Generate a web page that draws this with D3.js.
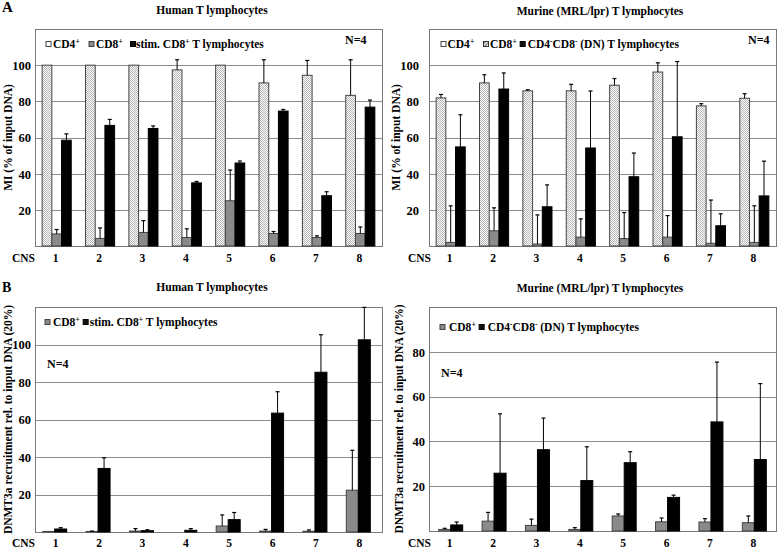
<!DOCTYPE html>
<html><head><meta charset="utf-8">
<script src="https://cdn.jsdelivr.net/npm/d3@7"></script>
<style>
body{margin:0;background:#fff}
svg{display:block}
text{font-family:"Liberation Serif","Times New Roman",serif;font-weight:bold;fill:#000}
</style>
</head><body>
<svg id="c" width="778" height="548"></svg>
<script>
// ---------- DATA ----------
const cnsLabels = ["1","2","3","4","5","6","7","8"];

// Panel A (MI, % of input DNA) – human
const humanMI_CD4      = [100, 100, 100, 97.4, 100, 90.2, 94.4, 83.3];
const humanMI_CD4_err  = [0, 0, 0, 5.6, 0, 12.8, 8.2, 19.7];
const humanMI_CD8      = [6.7, 4.2, 7.5, 4.7, 25, 6.9, 4.7, 6.9];
const humanMI_CD8_err  = [2.4, 5.8, 6.5, 4.8, 17, 1.1, 0.9, 3.6];
const humanMI_stim     = [58.5, 66.7, 65, 34.9, 45.9, 74.6, 27.8, 76.8];
const humanMI_stim_err = [3.5, 3.3, 1.4, 0.8, 1.1, 0.9, 2.2, 3.9];

// Panel A – murine
const murineMI_CD4     = [81.9, 90.2, 85.8, 85.8, 88.9, 96.2, 77.5, 81.7];
const murineMI_CD4_err = [1.9, 4.5, 0.6, 3.6, 3.7, 5.1, 1.2, 2.5];
const murineMI_CD8     = [2, 8.4, 1.1, 4.9, 4.1, 4.9, 1.5, 2];
const murineMI_CD8_err = [20.2, 12.7, 16.1, 10.1, 14.4, 11.9, 23.9, 20.2];
const murineMI_DN      = [54.8, 86.8, 21.7, 54.2, 38.3, 60.4, 11.2, 27.7];
const murineMI_DN_err  = [17.8, 8.9, 12.1, 31.5, 13.1, 41.6, 6.6, 19.2];

// Panel B (DNMT3a recruitment) – human
const humanDN_CD8      = [0.3, 0.3, 0.5, 0, 3.2, 0.5, 0.4, 22.3];
const humanDN_CD8_err  = [0, 0.2, 1.3, 0, 5.9, 0.9, 0.7, 21.3];
const humanDN_stim     = [1.6, 33.9, 0.7, 0.9, 6.6, 63.4, 85.2, 102.5];
const humanDN_stim_err = [0.7, 5.7, 0.5, 0.9, 3.8, 11.4, 20, 17.3];

// Panel B – murine
const murineDN_CD8     = [0.7, 4.4, 2.5, 0.7, 6.7, 4.1, 4, 3.7];
const murineDN_CD8_err = [0.5, 3.9, 2.8, 0.8, 0.9, 1.7, 1.5, 3];
const murineDN_DN      = [2.7, 25.8, 36.3, 22.5, 30.5, 15, 48.7, 31.9];
const murineDN_DN_err  = [1.3, 26.5, 14.1, 15.1, 4.9, 1, 26.7, 33.9];

const ticksA  = [20, 40, 60, 80, 100];
const ticksBh = [20, 40, 60, 80, 100];
const ticksBm = [20, 40, 60, 80];

// ---------- DRAW ----------
const svg = d3.select("#c");
const defs = svg.append("defs");
const pat = defs.append("pattern").attr("id","dots").attr("width",2).attr("height",2).attr("patternUnits","userSpaceOnUse");
pat.append("rect").attr("width",2).attr("height",2).attr("fill","#fff");
pat.append("rect").attr("width",1).attr("height",1).attr("fill","#b5b5b5");
pat.append("rect").attr("x",1).attr("y",1).attr("width",1).attr("height",1).attr("fill","#b5b5b5");
const hat = defs.append("pattern").attr("id","hatch").attr("width",2.5).attr("height",2.5)
  .attr("patternUnits","userSpaceOnUse").attr("patternTransform","rotate(45)");
hat.append("rect").attr("width",2.5).attr("height",2.5).attr("fill","#e5e5e5");
hat.append("line").attr("x1",0).attr("y1",0).attr("x2",0).attr("y2",2.5).attr("stroke","#222").attr("stroke-width",1.1);

const styles = {
  cd4:   {fill:"url(#dots)", stroke:"#444"},
  gray:  {fill:"#8a8a8a", stroke:"#444"},
  black: {fill:"#000", stroke:"#000"}
};

const LEG_FS = 11.5;

function panel(cfg){
  const x = d3.scaleBand().domain(cnsLabels).range([cfg.x0, cfg.x1]);
  const y = d3.scaleLinear().domain([0, cfg.ymax]).range([cfg.y1, cfg.y0]);
  const g = svg.append("g");

  // gridlines
  g.selectAll("line.grid").data(cfg.ticks).join("line").attr("class","grid")
    .attr("x1", cfg.x0).attr("x2", cfg.x1)
    .attr("y1", d => Math.round(y(d))+0.5).attr("y2", d => Math.round(y(d))+0.5)
    .attr("stroke","#8c8c8c").attr("stroke-width",1);

  // frame
  g.append("rect").attr("x",cfg.x0+0.5).attr("y",cfg.y0+0.5)
    .attr("width",cfg.x1-cfg.x0).attr("height",cfg.y1-cfg.y0)
    .attr("fill","none").attr("stroke","#7a7a7a").attr("stroke-width",1);

  // y axis
  const ax = g.append("g").attr("transform",`translate(${cfg.tickRight},0)`)
    .call(d3.axisLeft(y).tickValues(cfg.ticks).tickSize(0).tickPadding(0));
  ax.select(".domain").remove();
  ax.attr("font-family",null).attr("font-size",null);
  ax.selectAll("text").attr("font-size",12.5).attr("dy","0.35em");

  // bars
  const n = cfg.series.length;
  cfg.series.forEach((s, k) => {
    const off = i => x(cnsLabels[i]) + x.bandwidth()/2 - n*cfg.barW/2 + k*cfg.barW + (cfg.shift||0);
    const st = styles[s.style];
    const data = s.values.map((v,i)=>({v, e:s.err[i], i}));
    g.selectAll(null).data(data.filter(d=>d.v>0)).join("rect")
      .attr("x", d => off(d.i)).attr("width", cfg.barW)
      .attr("y", d => y(d.v)).attr("height", d => y(0)-y(d.v))
      .attr("fill", st.fill).attr("stroke", st.stroke).attr("stroke-width",1);
    const eb = data.filter(d=>d.e>0);
    g.selectAll(null).data(eb).join("line")
      .attr("x1", d => off(d.i)+cfg.barW/2).attr("x2", d => off(d.i)+cfg.barW/2)
      .attr("y1", d => y(d.v)).attr("y2", d => y(d.v+d.e))
      .attr("stroke","#000").attr("stroke-width",1);
    g.selectAll(null).data(eb).join("line")
      .attr("x1", d => off(d.i)+cfg.barW/2-2).attr("x2", d => off(d.i)+cfg.barW/2+2)
      .attr("y1", d => y(d.v+d.e)).attr("y2", d => y(d.v+d.e))
      .attr("stroke","#000").attr("stroke-width",1.2);
  });

  // x labels
  const bx = g.append("g").attr("transform",`translate(-1,${cfg.cnsY})`)
    .call(d3.axisBottom(x).tickSize(0).tickPadding(0));
  bx.select(".domain").remove();
  bx.attr("font-family",null).attr("font-size",null);
  bx.selectAll("text").attr("font-size",11.5).attr("dy",0).attr("y",0);
  g.append("text").attr("x",cfg.cnsX).attr("y",cfg.cnsY).attr("text-anchor","end")
    .attr("font-size",11.5).text("CNS");

  // y label
  g.append("text").attr("transform",`translate(${cfg.ylabelX},${(cfg.y0+cfg.y1)/2}) rotate(-90)`)
    .attr("text-anchor","middle").attr("font-size",11.5).text(cfg.ylabel);

  // title
  g.append("text").attr("x",cfg.titleX).attr("y",cfg.titleY).attr("text-anchor","middle")
    .attr("font-size",11.5).text(cfg.title);

  // N=4
  g.append("text").attr("x",cfg.nX).attr("y",cfg.nY).attr("font-size",12).text("N=4");

  // legend (sequential, never overlapping)
  let cursor = -Infinity;
  cfg.legend.forEach(it => {
    const by = cfg.legY;
    const sx = Math.max(it.sx, cursor + 3);
    const sym = g.append("rect").attr("x",sx+0.5).attr("y",by-6.5).attr("width",5).attr("height",5).attr("stroke-width",1);
    if (it.sym==="cd4") sym.attr("fill","#fff").attr("stroke","#444");
    if (it.sym==="gray") sym.attr("fill","#8a8a8a").attr("stroke","#444");
    if (it.sym==="black") sym.attr("fill","#111").attr("stroke","#000");
    if (it.sym==="hatch") sym.attr("fill","url(#hatch)").attr("stroke","#333");
    const tx = sx + (it.tx - it.sx);
    const t = g.append("text").attr("x",tx).attr("y",by).attr("font-size",LEG_FS);
    let pendingDy = 0;
    it.parts.forEach(p => {
      if (p.sup) {
        t.append("tspan").attr("font-size",7.5).attr("dy",-4.5 - pendingDy).text(p.t);
        pendingDy = -4.5;
      } else {
        const ts = t.append("tspan").text(p.t);
        if (pendingDy) { ts.attr("dy", -pendingDy); pendingDy = 0; }
      }
    });
    cursor = tx + t.node().getComputedTextLength();
  });
}

const L = (t)=>({t}), S = (t)=>({t, sup:true});

panel({
  x0:35, x1:382, y0:29, y1:246, ymax:120, ticks:ticksA, tickRight:31, barW:9.7,
  cnsY:262, cnsX:35, ylabelX:12, ylabel:"MI (% of input DNA)",
  title:"Human T lymphocytes", titleX:212, titleY:14, nX:345, nY:44, legY:48,
  series:[
    {values:humanMI_CD4, err:humanMI_CD4_err, style:"cd4"},
    {values:humanMI_CD8, err:humanMI_CD8_err, style:"gray"},
    {values:humanMI_stim, err:humanMI_stim_err, style:"black"}
  ],
  legend:[
    {sym:"cd4", sx:45.5, tx:53, parts:[L("CD4"),S("+")]},
    {sym:"gray", sx:88.5, tx:96, parts:[L("CD8"),S("+")]},
    {sym:"black", sx:130, tx:136, parts:[L("stim. CD8"),S("+"),L(" T lymphocytes")]}
  ]
});

panel({
  x0:429, x1:776, y0:29, y1:246, ymax:120, ticks:ticksA, tickRight:419, barW:9.7,
  cnsY:262, cnsX:431, ylabelX:400, ylabel:"MI (% of input DNA)",
  title:"Murine (MRL/lpr) T lymphocytes", titleX:600, titleY:15, nX:748, nY:44, legY:48,
  series:[
    {values:murineMI_CD4, err:murineMI_CD4_err, style:"cd4"},
    {values:murineMI_CD8, err:murineMI_CD8_err, style:"gray"},
    {values:murineMI_DN, err:murineMI_DN_err, style:"black"}
  ],
  legend:[
    {sym:"cd4", sx:440.5, tx:447.5, parts:[L("CD4"),S("+")]},
    {sym:"hatch", sx:483, tx:490, parts:[L("CD8"),S("+")]},
    {sym:"black", sx:517, tx:525, parts:[L("CD4"),S("-"),L("CD8"),S("-"),L(" (DN) T lymphocytes")]}
  ]
});

panel({
  x0:35, x1:382, y0:307, y1:532, ymax:120, ticks:ticksBh, tickRight:31, barW:12, shift:-2,
  cnsY:547, cnsX:35, ylabelX:11.5, ylabel:"DNMT3a recruitment rel. to input DNA (20%)",
  title:"Human T lymphocytes", titleX:212, titleY:291, nX:47, nY:368, legY:326,
  series:[
    {values:humanDN_CD8, err:humanDN_CD8_err, style:"gray"},
    {values:humanDN_stim, err:humanDN_stim_err, style:"black"}
  ],
  legend:[
    {sym:"gray", sx:44.5, tx:53, parts:[L("CD8"),S("+")]},
    {sym:"black", sx:77, tx:84, parts:[L("stim. CD8"),S("+"),L(" T lymphocytes")]}
  ]
});

panel({
  x0:429, x1:776, y0:307, y1:531, ymax:100, ticks:ticksBm, tickRight:425, barW:12,
  cnsY:547, cnsX:431, ylabelX:403, ylabel:"DNMT3a recruitment rel. to input DNA (20%)",
  title:"Murine (MRL/lpr) T lymphocytes", titleX:600, titleY:292, nX:441, nY:377, legY:331,
  series:[
    {values:murineDN_CD8, err:murineDN_CD8_err, style:"gray"},
    {values:murineDN_DN, err:murineDN_DN_err, style:"black"}
  ],
  legend:[
    {sym:"gray", sx:439.5, tx:449, parts:[L("CD8"),S("+")]},
    {sym:"black", sx:473, tx:482, parts:[L("CD4"),S("-"),L("CD8"),S("-"),L(" (DN) T lymphocytes")]}
  ]
});

svg.append("text").attr("x",2).attr("y",12).attr("font-size",15).text("A");
svg.append("text").attr("x",2).attr("y",292).attr("font-size",14).text("B");
</script>
</body></html>
